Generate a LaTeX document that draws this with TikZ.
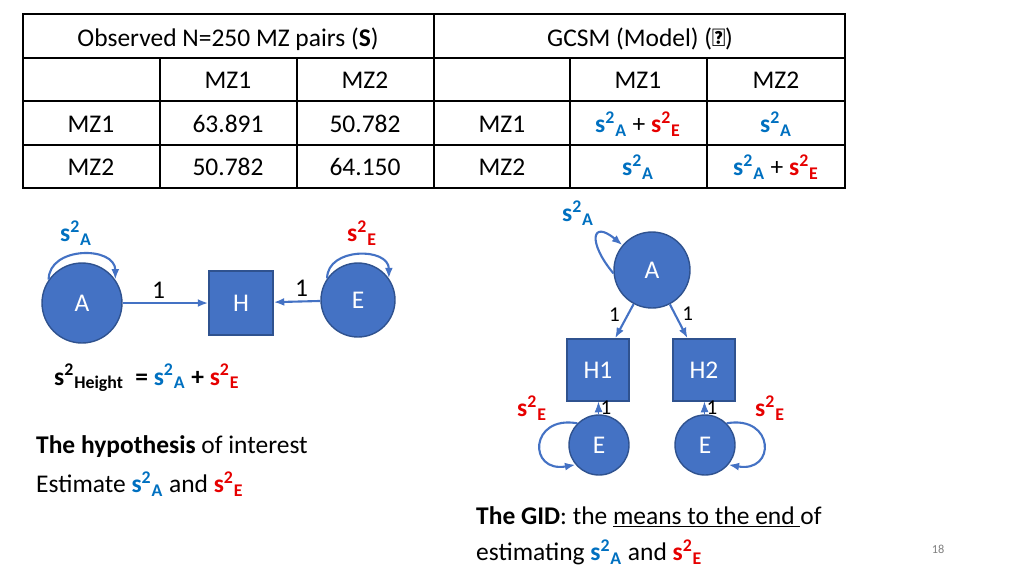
\documentclass[tikz,border=0pt]{standalone}
\usepackage{fontspec}
\setmainfont{Carlito}
\usetikzlibrary{arrows.meta}
\definecolor{sblue}{RGB}{0,112,192}
\definecolor{sred}{RGB}{230,0,0}
\definecolor{fillb}{RGB}{68,114,196}
\definecolor{edgeb}{RGB}{47,82,143}
\newcommand\sv[2]{\textcolor{#1}{\textbf{s\textsuperscript{2}\textsubscript{#2}}}}
\tikzset{
  every node/.style={font=\fontsize{14.5}{17}\selectfont},
  cell/.style={anchor=center},
  latent/.style={circle, fill=fillb, draw=edgeb, thick, text=white, inner sep=0pt},
  obs/.style={rectangle, fill=fillb, draw=edgeb, thick, text=white, inner sep=0pt},
  path/.style={draw=fillb, very thick, -{Latex[length=6pt]}},
  loop/.style={draw=fillb, very thick, -{Latex[length=6pt]}},
  lab/.style={font=\fontsize{12}{14}\selectfont}
}
\begin{document}
\begin{tikzpicture}[x=0.02cm,y=-0.02cm]
  \useasboundingbox (0,0) rectangle (1024,576);
  % table
  \draw[thick] (23,14) rectangle (845,188);
  \foreach \y in {58,101,145} \draw[thick] (23,\y) -- (845,\y);
  \draw[thick] (434,14) -- (434,188);
  \foreach \x in {160,297,570,707} \draw[thick] (\x,58) -- (\x,188);
  \node[cell] (t0) at (228,39) {Observed N=250 MZ pairs (\textbf{S})};
  \node[cell] (t1) at (640,39) {GCSM (Model) ($\mathbf{\Sigma}$)};
  \node[cell] (c1) at (228,80) {MZ1};
  \node[cell] (c2) at (365,80) {MZ2};
  \node[cell] (c3) at (638,80) {MZ1};
  \node[cell] (c4) at (776,80) {MZ2};
  \node[cell] (r1) at (91,124) {MZ1};
  \node[cell] (v11) at (228,124) {63.891};
  \node[cell] (v12) at (365,124) {50.782};
  \node[cell] (r3) at (502,124) {MZ1};
  \node[cell] (m11) at (638,124) {\sv{sblue}{A} + \sv{sred}{E}};
  \node[cell] (m12) at (776,124) {\sv{sblue}{A}};
  \node[cell] (r2) at (91,167) {MZ2};
  \node[cell] (v21) at (228,167) {50.782};
  \node[cell] (v22) at (365,167) {64.150};
  \node[cell] (r4) at (502,167) {MZ2};
  \node[cell] (m21) at (638,167) {\sv{sblue}{A}};
  \node[cell] (m22) at (776,167) {\sv{sblue}{A} + \sv{sred}{E}};
  % left model
  \node[latent, minimum size=1.6cm] (A) at (82,303) {A};
  \node[obs, minimum size=1.28cm] (H) at (241,303) {H};
  \node[latent, minimum size=1.48cm] (E) at (358,300) {E};
  \draw[path] (A) -- node[pos=0.42, above, inner sep=2pt] {1} (H);
  \draw[path] (E) -- node[pos=0.4, above, inner sep=2pt] {1} (H);
  \draw[loop] (A.145) to[out=90,in=90,looseness=1.3] (A.35);
  \draw[loop] (E.145) to[out=90,in=90,looseness=1.3] (E.35);
  \node (lA) at (76,233) {\sv{sblue}{A}};
  \node (lE) at (362,233) {\sv{sred}{E}};
  \node[anchor=west] (eq) at (48,378) {\textbf{s\textsuperscript{2}\textsubscript{Height}} \ \textbf{=} \sv{sblue}{A} \textbf{+} \sv{sred}{E}};
  \node[anchor=west] (hyp) at (30,447) {\textbf{The hypothesis} of interest};
  \node[anchor=west] (est) at (30,484) {Estimate \sv{sblue}{A} and \sv{sred}{E}};
  % right model
  \node[latent, minimum size=1.52cm] (A2) at (652,270) {A};
  \node[obs, minimum size=1.24cm] (H1) at (598,370) {H1};
  \node[obs, minimum size=1.24cm] (H2) at (704,370) {H2};
  \node[latent, minimum size=1.2cm] (E1) at (599,445) {E};
  \node[latent, minimum size=1.2cm] (E2) at (705,445) {E};
  \draw[path] (A2) -- node[lab, pos=0.6, above left, inner sep=1pt] {1} (H1);
  \draw[path] (A2) -- node[lab, pos=0.55, above right, inner sep=1pt] {1} (H2);
  \draw[path, thin] (E1) -- node[lab, right, inner sep=1pt] {1} (H1);
  \draw[path, thin] (E2) -- node[lab, right, inner sep=1pt] {1} (H2);
  \draw[loop] (A2.185) to[out=130,in=140,looseness=3.5] (A2.140);
  \draw[loop] (E1.135) to[out=170,in=190,looseness=3] (E1.220);
  \draw[loop] (E2.45) to[out=10,in=-10,looseness=3] (E2.-40);
  \node (lA2) at (578,213) {\sv{sblue}{A}};
  \node (lE1) at (532,408) {\sv{sred}{E}};
  \node (lE2) at (770,408) {\sv{sred}{E}};
  \node[anchor=west] (gid) at (470,517) {\textbf{The GID}: the \underline{means to the end }of};
  \node[anchor=west] (gid2) at (470,552) {estimating \sv{sblue}{A} and \sv{sred}{E}};
  \node[font=\fontsize{7}{8}\selectfont, text=gray] (pg) at (938,549) {18};
\end{tikzpicture}
\end{document}
